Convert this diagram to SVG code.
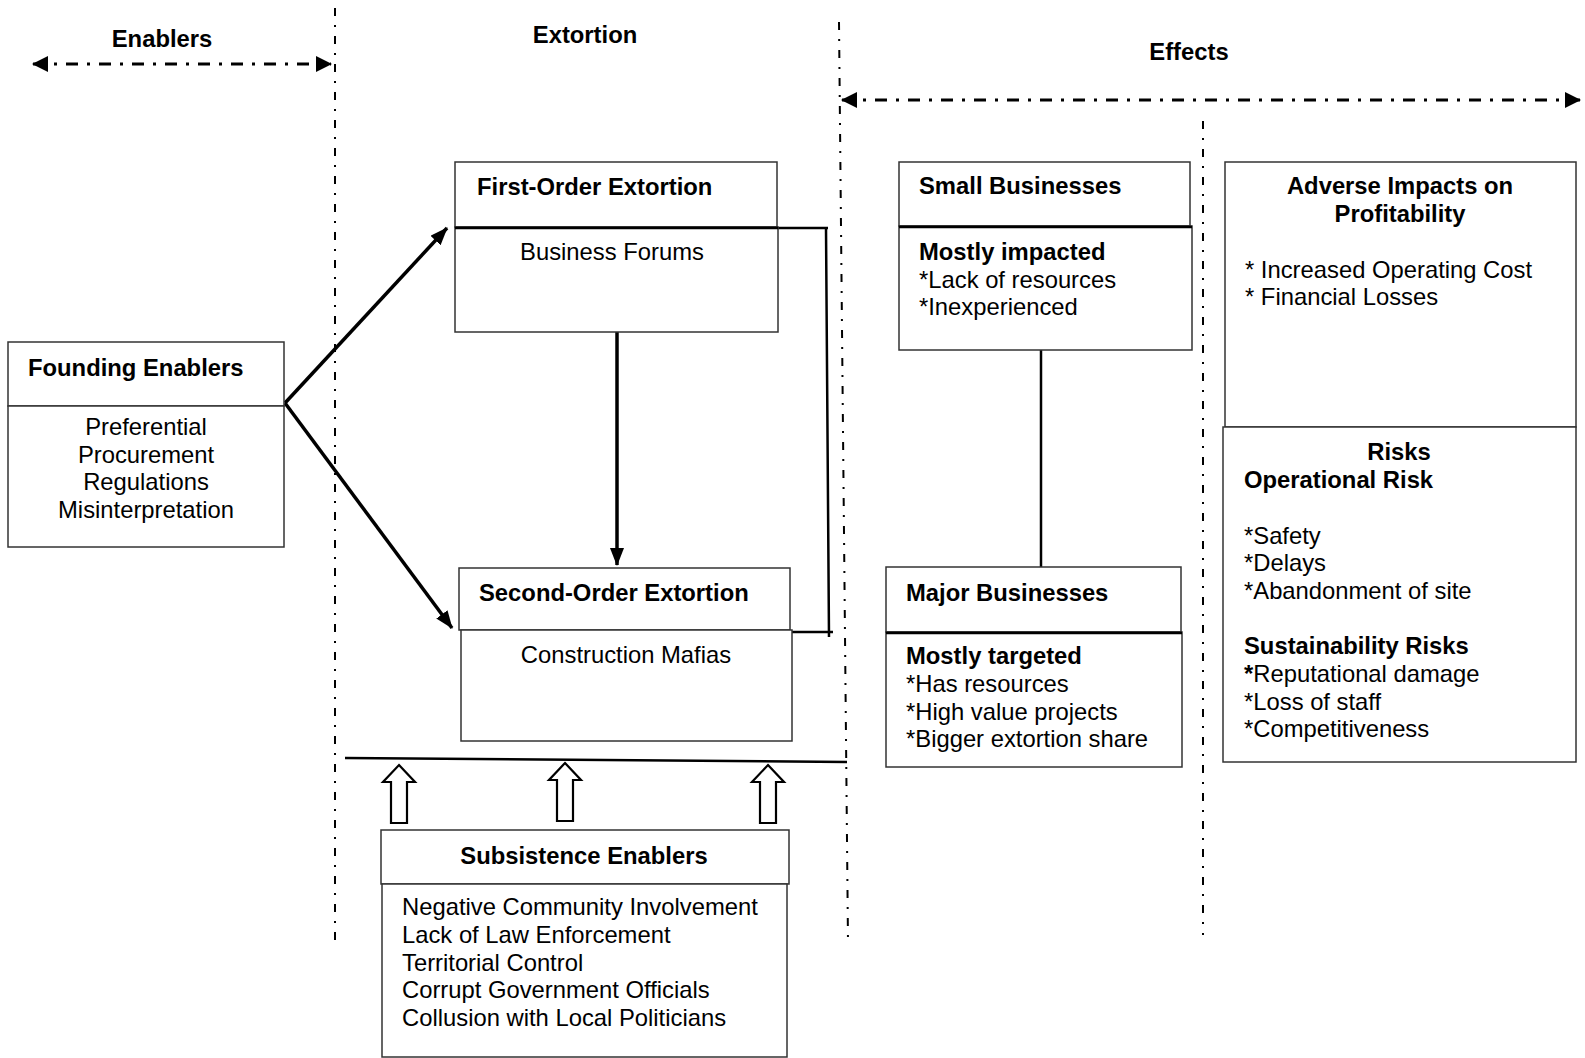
<svg xmlns="http://www.w3.org/2000/svg" width="1585" height="1058" viewBox="0 0 1585 1058">
<style>
text{font-family:"Liberation Sans",Arial,sans-serif;font-size:23.8px;fill:#000}
.b{font-weight:bold}
.m{text-anchor:middle}
.box{fill:#fff;stroke:#333;stroke-width:1.5}
.sep{stroke:#000;stroke-width:2.5}
.guide{fill:none;stroke:#000;stroke-width:2;stroke-dasharray:8 9 2 9}
.span{fill:none;stroke:#000;stroke-width:3;stroke-dasharray:12 9 3 9}
.conn{fill:none;stroke:#000;stroke-width:3.5}
.thin{fill:none;stroke:#000;stroke-width:2.5}
.hollow{fill:#fff;stroke:#000;stroke-width:2.2;stroke-linejoin:miter}
</style>
<defs>
<marker id="ah" markerWidth="18" markerHeight="14" refX="17" refY="7" orient="auto-start-reverse" markerUnits="userSpaceOnUse"><path d="M0,0 L18,7 L0,14 Z" fill="#000"/></marker>
<marker id="ah2" markerWidth="16" markerHeight="16" refX="15" refY="8" orient="auto-start-reverse" markerUnits="userSpaceOnUse"><path d="M0,0 L16,8 L0,16 Z" fill="#000"/></marker>
<path id="up" d="M0,0 L16,17 L8,17 L8,58 L-8,58 L-8,17 L-16,17 Z"/>
</defs>
<rect width="1585" height="1058" fill="#fff"/>

<g id="guides">
<line class="guide" x1="335" y1="8" x2="335" y2="945"/>
<line class="guide" x1="839" y1="22" x2="848" y2="942"/>
<line class="guide" x1="1203" y1="121" x2="1203" y2="935"/>
<line class="span" x1="33" y1="64" x2="331" y2="64" marker-start="url(#ah2)" marker-end="url(#ah2)"/>
<line class="span" x1="842" y1="100" x2="1580" y2="100" marker-start="url(#ah2)" marker-end="url(#ah2)"/>
<text class="b m" x="162" y="47">Enablers</text>
<text class="b m" x="585" y="43">Extortion</text>
<text class="b m" x="1189" y="60">Effects</text>
</g>

<g id="connectors">
<line class="conn" x1="285" y1="403" x2="447" y2="228" marker-end="url(#ah)"/>
<line class="conn" x1="285" y1="403" x2="452" y2="628" marker-end="url(#ah)"/>
<line class="conn" x1="617" y1="332" x2="617" y2="565" marker-end="url(#ah)"/>
<path class="thin" d="M777,228 L828,228 M826,228 L829,637 M785,632 L833,632"/>
<line class="thin" x1="1041" y1="350" x2="1041" y2="567"/>
<line class="thin" x1="345" y1="758" x2="847" y2="762"/>
<use href="#up" class="hollow" x="399" y="765"/>
<use href="#up" class="hollow" x="565" y="763"/>
<use href="#up" class="hollow" x="768" y="765"/>
</g>

<g id="founding-enablers">
<rect class="box" x="8" y="342" width="276" height="64"/>
<rect class="box" x="8" y="406" width="276" height="141"/>
<text class="b" x="28" y="376">Founding Enablers</text>
<text class="m" x="146" y="435">Preferential</text>
<text class="m" x="146" y="463">Procurement</text>
<text class="m" x="146" y="490">Regulations</text>
<text class="m" x="146" y="518">Misinterpretation</text>
</g>

<g id="first-order">
<rect class="box" x="455" y="162" width="322" height="65"/>
<rect class="box" x="455" y="227" width="323" height="105"/>
<line class="sep" x1="455" y1="228" x2="778" y2="228"/>
<text class="b" x="477" y="195">First-Order Extortion</text>
<text class="m" x="612" y="260">Business Forums</text>
</g>

<g id="second-order">
<rect class="box" x="459" y="568" width="331" height="62"/>
<rect class="box" x="461" y="630" width="331" height="111"/>
<text class="b" x="479" y="601">Second-Order Extortion</text>
<text class="m" x="626" y="663">Construction Mafias</text>
</g>

<g id="subsistence-enablers">
<rect class="box" x="381" y="830" width="408" height="54"/>
<rect class="box" x="382" y="884" width="405" height="173"/>
<text class="b m" x="584" y="864">Subsistence Enablers</text>
<text x="402" y="915">Negative Community Involvement</text>
<text x="402" y="943">Lack of Law Enforcement</text>
<text x="402" y="971">Territorial Control</text>
<text x="402" y="998">Corrupt Government Officials</text>
<text x="402" y="1026">Collusion with Local Politicians</text>
</g>

<g id="small-businesses">
<rect class="box" x="899" y="162" width="291" height="64"/>
<rect class="box" x="899" y="226" width="293" height="124"/>
<line class="sep" x1="899" y1="227" x2="1192" y2="227"/>
<text class="b" x="919" y="194">Small Businesses</text>
<text class="b" x="919" y="260">Mostly impacted</text>
<text x="919" y="288">*Lack of resources</text>
<text x="919" y="315">*Inexperienced</text>
</g>

<g id="major-businesses">
<rect class="box" x="886" y="567" width="295" height="65"/>
<rect class="box" x="886" y="632" width="296" height="135"/>
<line class="sep" x1="886" y1="633" x2="1182" y2="633"/>
<text class="b" x="906" y="601">Major Businesses</text>
<text class="b" x="906" y="664">Mostly targeted</text>
<text x="906" y="692">*Has resources</text>
<text x="906" y="720">*High value projects</text>
<text x="906" y="747">*Bigger extortion share</text>
</g>

<g id="adverse-impacts">
<rect class="box" x="1225" y="162" width="351" height="265"/>
<text class="b m" x="1400" y="194">Adverse Impacts on</text>
<text class="b m" x="1400" y="222">Profitability</text>
<text x="1245" y="278">* Increased Operating Cost</text>
<text x="1245" y="305">* Financial Losses</text>
</g>

<g id="risks">
<rect class="box" x="1223" y="427" width="353" height="335"/>
<text class="b m" x="1399" y="460">Risks</text>
<text class="b" x="1244" y="488">Operational Risk</text>
<text x="1244" y="544">*Safety</text>
<text x="1244" y="571">*Delays</text>
<text x="1244" y="599">*Abandonment of site</text>
<text class="b" x="1244" y="654">Sustainability Risks</text>
<text x="1244" y="682"><tspan class="b">*</tspan>Reputational damage</text>
<text x="1244" y="710">*Loss of staff</text>
<text x="1244" y="737">*Competitiveness</text>
</g>
</svg>
